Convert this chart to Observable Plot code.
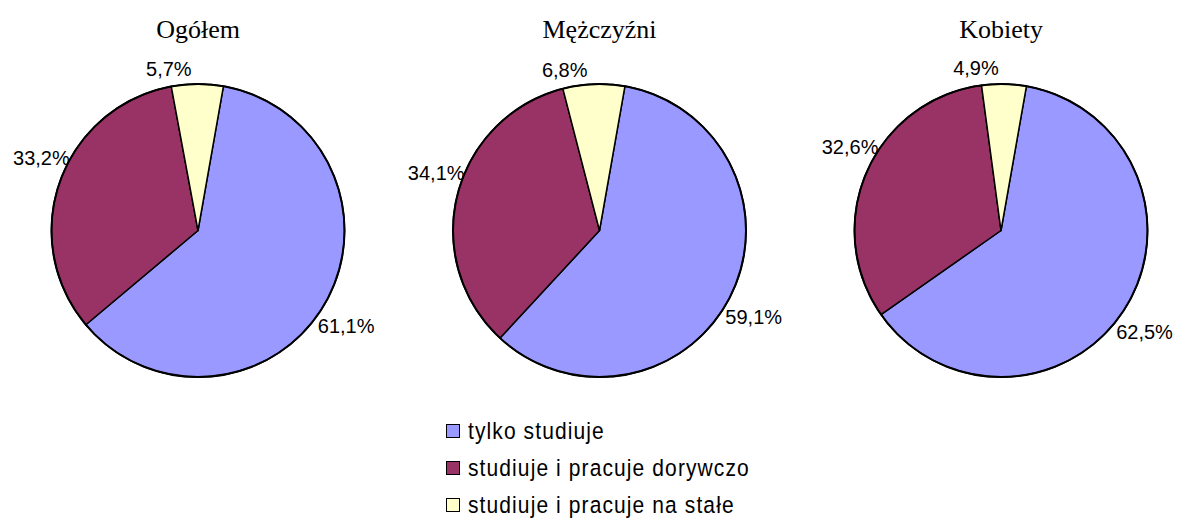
<!DOCTYPE html>
<html><head><meta charset="utf-8">
<script src="https://cdn.jsdelivr.net/npm/d3@7"></script>
<script src="https://cdn.jsdelivr.net/npm/@observablehq/plot@0.6"></script>
<style>
body{margin:0;background:#fff;width:1180px;height:521px;overflow:hidden;}
#legend{margin-left:446px;margin-top:12px;font-family:"Liberation Sans",Arial,sans-serif;font-size:21px;letter-spacing:1.1px;color:#000;}
.row{display:flex;align-items:center;height:37px;}
.sw{width:14px;height:14px;box-sizing:border-box;border:1.5px solid #000;margin-right:8px;}
.lt{display:inline-block;transform:scaleY(1.12);transform-origin:50% 55%;}
</style></head><body>
<div id="chart"></div>
<div id="legend"></div>
<script>
// ---- data ----
const groups = ["Ogółem", "Mężczyźni", "Kobiety"];
const categories = ["tylko studiuje", "studiuje i pracuje dorywczo", "studiuje i pracuje na stałe"];
const ogolem = [61.1, 33.2, 5.7];
const mezczyzni = [59.1, 34.1, 6.8];
const kobiety = [62.5, 32.6, 4.9];
const colors = ["#9999FF", "#993366", "#FFFFCC"];

// ---- layout ----
const W = 1180, H = 400;
const CX0 = 197.5, DX = 401.5, CY = 230, R = 146.5, START = 10;
// label placement tweaks per category (degrees, px)
const labelAngleNudge = [3, 5, -10];
const labelDistNudge = [5, 0, 0];
const series = [ogolem, mezczyzni, kobiety];

const slices = [], labels = [], centers = [];
series.forEach((vals, g) => {
  const cx = CX0 + g * DX;
  centers.push({x: cx, y: CY, name: groups[g]});
  const total = d3.sum(vals);
  let a = START;
  vals.forEach((v, i) => {
    const span = v / total * 360;
    const a0 = a, a1 = a + span;
    const n = Math.max(2, Math.ceil(span));
    const key = g + "-" + i;
    const pts = [[cx, CY]];
    for (let k = 0; k <= n; k++) {
      const t = (a0 + (a1 - a0) * k / n) * Math.PI / 180;
      pts.push([cx + R * Math.sin(t), CY - R * Math.cos(t)]);
    }
    pts.push([cx, CY]);
    pts.forEach(([x, y]) => slices.push({x, y, key, cat: categories[i]}));
    const m = ((a0 + a1) / 2 + labelAngleNudge[i]) * Math.PI / 180;
    const D = R + 15 + 12 * Math.abs(Math.sin(m)) + labelDistNudge[i];
    labels.push({x: cx + D * Math.sin(m), y: CY - D * Math.cos(m), text: v.toFixed(1).replace(".", ",") + "%"});
    a = a1;
  });
});

const chart = Plot.plot({
  width: W, height: H, margin: 0,
  x: {type: "identity", axis: null},
  y: {type: "identity", axis: null},
  color: {domain: categories, range: colors},
  style: {background: "#fff"},
  marks: [
    Plot.line(slices, {x: "x", y: "y", z: "key", fill: "cat", stroke: "#000", strokeWidth: 1.5, strokeLinejoin: "round"}),
    Plot.dot(centers, {x: "x", y: "y", r: R, fill: "none", stroke: "#000", strokeWidth: 2}),
    Plot.text(labels, {x: "x", y: "y", text: "text", fontSize: 20, fontFamily: "Liberation Sans, Arial, sans-serif", fill: "#000", lineAnchor: "middle", ariaLabel: "pct-labels"}),
    Plot.text(centers, {x: "x", y: () => 37, text: "name", fontSize: 26, fontFamily: "Liberation Serif, Times New Roman, serif", fill: "#000", lineAnchor: "bottom", ariaLabel: "titles"})
  ]
});
document.getElementById("chart").appendChild(chart);

// stretch percentage labels vertically to match the reference rendering
chart.querySelectorAll('g[aria-label="pct-labels"] text').forEach(t => {
  let tr = t.getAttribute("transform") || "";
  const x = +(t.getAttribute("x") || 0), y = +(t.getAttribute("y") || 0);
  if (x || y) { t.removeAttribute("x"); t.removeAttribute("y"); tr = `translate(${x},${y}) ` + tr; }
  t.setAttribute("transform", tr + " scale(1,1.15)");
});

const legend = d3.select("#legend");
categories.forEach((c, i) => {
  const row = legend.append("div").attr("class", "row");
  row.append("div").attr("class", "sw").style("background", colors[i]);
  row.append("span").attr("class", "lt").text(c);
});
</script>
</body></html>
